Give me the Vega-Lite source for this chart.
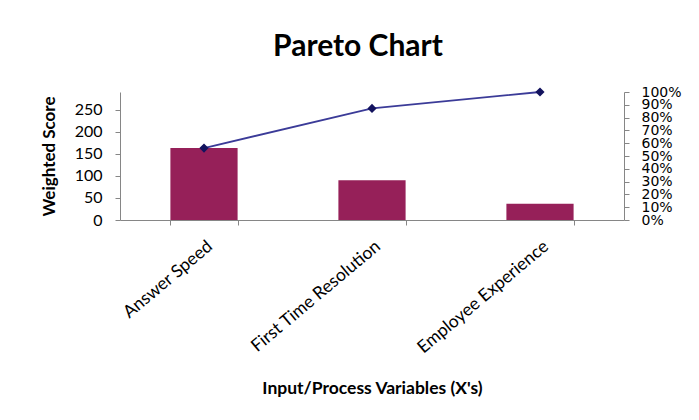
{
  "$schema": "https://vega.github.io/schema/vega-lite/v6.json",
  "width": 504,
  "height": 128,
  "autosize": {"type": "none"},
  "padding": {"left": 120, "top": 92, "right": 75, "bottom": 200},
  "background": "white",
  "title": {"text": "Pareto Chart", "font": "Lato", "fontSize": 30, "fontWeight": "bold", "color": "black", "anchor": "middle", "dx": -14, "offset": 23},
  "data": {
    "values": [
      {"variable": "Answer Speed", "score": 163, "cum": 0.562},
      {"variable": "First Time Resolution", "score": 90, "cum": 0.872},
      {"variable": "Employee Experience", "score": 37, "cum": 1.0}
    ]
  },
  "encoding": {
    "x": {
      "field": "variable",
      "type": "nominal",
      "sort": null,
      "scale": {"paddingInner": 0.6, "paddingOuter": 0.3},
      "axis": {
        "labelAngle": -40,
        "labelFont": "Lato",
        "labelFontSize": 17.5,
        "labelColor": "black",
        "labelPadding": 12,
        "domainColor": "#868686",
        "tickColor": "#868686",
        "tickBand": "extent",
        "tickSize": 5,
        "title": "Input/Process Variables (X's)",
        "titleFont": "Lato",
        "titleFontSize": 17.5,
        "titleFontWeight": "bold",
        "titleColor": "black",
        "titleY": 168,
        "titleBaseline": "middle"
      }
    }
  },
  "layer": [
    {
      "mark": {"type": "bar", "color": "#962059"},
      "encoding": {
        "y": {
          "field": "score",
          "type": "quantitative",
          "scale": {"domain": [0, 290]},
          "axis": {
            "values": [0, 50, 100, 150, 200, 250],
            "grid": false,
            "labelFont": "Lato",
            "labelFontSize": 16,
            "labelColor": "black",
            "labelPadding": 13,
            "domainColor": "#868686",
            "tickColor": "#868686",
            "tickSize": 5,
            "title": "Weighted Score",
            "titleFont": "Lato",
            "titleFontSize": 17,
            "titleFontWeight": "bold",
            "titleColor": "black",
            "titleX": -71,
            "titleY": 64,
            "titleAngle": -90,
            "titleAlign": "center",
            "titleBaseline": "middle"
          }
        }
      }
    },
    {
      "mark": {
        "type": "line",
        "color": "#3B3B98",
        "strokeWidth": 1.8,
        "point": {"shape": "diamond", "filled": true, "fill": "#13135E", "stroke": "#13135E", "size": 40}
      },
      "encoding": {
        "y": {
          "field": "cum",
          "type": "quantitative",
          "scale": {"domain": [0, 1]},
          "axis": {
            "orient": "right",
            "values": [0, 0.1, 0.2, 0.3, 0.4, 0.5, 0.6, 0.7, 0.8, 0.9, 1],
            "format": ".0%",
            "grid": false,
            "labelOverlap": false,
            "labelFont": "DejaVu Sans",
            "labelFontSize": 14,
            "labelColor": "black",
            "labelPadding": 12,
            "domainColor": "#868686",
            "tickColor": "#868686",
            "tickSize": 5,
            "title": null
          }
        }
      }
    }
  ],
  "resolve": {"scale": {"y": "independent"}},
  "config": {"view": {"stroke": null}}
}
